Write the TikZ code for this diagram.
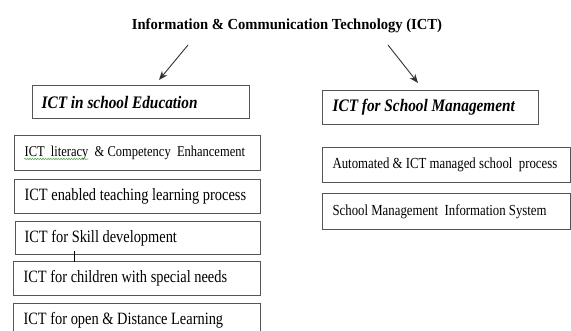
\documentclass[tikz,border=0pt]{standalone}
\usepackage{graphicx}
\usepackage{fontspec}
\setmainfont{Liberation Serif}
\usetikzlibrary{arrows.meta,decorations.pathmorphing}
\definecolor{boxgray}{RGB}{85,85,85}
\definecolor{arrgray}{RGB}{50,50,50}
\definecolor{spellgreen}{RGB}{90,170,90}
% left-aligned, vertically stretched text of fixed width
\newcommand{\mylt}[3]{\makebox[#1][l]{\scalebox{1}[#2]{#3}}}
\begin{document}
\begin{tikzpicture}[x=1pt,y=-1pt,
  box/.style={draw=boxgray, line width=1.2pt, rectangle, anchor=north west,
    inner ysep=0pt, text=black},
  head/.style={box, font=\bfseries\itshape\fontsize{15.3}{18}\selectfont},
  bodyL/.style={box, font=\fontsize{14.4}{17}\selectfont},
  bodyS/.style={box, font=\fontsize{12.5}{15}\selectfont},
  bodyR/.style={box, font=\fontsize{12.8}{15}\selectfont},
  arr/.style={draw=arrgray, line width=0.9pt, -{Stealth[length=9pt,width=7pt]}},
  tick/.style={draw=black, line width=1pt},
  spell/.style={draw=spellgreen, line width=0.6pt, decorate,
    decoration={snake, amplitude=0.7pt, segment length=2.6pt}}
]
\useasboundingbox (0,0) rectangle (571,331);
\clip (0,0) rectangle (571,331);
\fill[white] (0,0) rectangle (571,331);

% title
\node[font=\bfseries\fontsize{14.6}{17}\selectfont, inner sep=0pt] (title) at (287,26)
  {\scalebox{1}[1.05]{Information \& Communication Technology (ICT)}};

% headers
\node[head, inner xsep=9pt, minimum width=217pt, minimum height=33pt] (edu) at (32,85)
  {\mylt{199pt}{1.15}{ICT in school Education}};
\node[head, inner xsep=10pt, minimum width=216pt, minimum height=34pt] (mgmt) at (322,90)
  {\mylt{196pt}{1.15}{ICT for School Management}};

% left column
\node[bodyS, inner xsep=10pt, minimum width=246pt, minimum height=35pt] (lit) at (14,135)
  {\mylt{226pt}{1.2}{ICT\ \ literacy\ \ \& Competency\ \ Enhancement}};
\node[bodyL, inner xsep=10pt, minimum width=246pt, minimum height=34pt] (enab) at (14,179)
  {\mylt{226pt}{1.2}{ICT enabled teaching learning process}};
\node[bodyL, inner xsep=9pt, minimum width=245pt, minimum height=33pt] (skill) at (15,221)
  {\mylt{227pt}{1.2}{ICT for Skill development}};
\node[bodyL, inner xsep=10pt, minimum width=247pt, minimum height=34pt] (child) at (13,261)
  {\mylt{227pt}{1.2}{ICT for children with special needs}};
\node[bodyL, inner xsep=10pt, minimum width=247pt, minimum height=34pt] (open) at (13,303)
  {\mylt{227pt}{1.2}{ICT for open \& Distance Learning}};

% right column
\node[bodyR, inner xsep=10pt, minimum width=248pt, minimum height=35pt] (auto) at (322,147)
  {\mylt{228pt}{1.2}{Automated \& ICT managed school\ \ process}};
\node[bodyR, inner xsep=10pt, minimum width=248pt, minimum height=36pt] (smis) at (322,193)
  {\mylt{228pt}{1.2}{School Management\ \ Information System}};

% arrows
\coordinate (a1s) at (188,45);
\coordinate (a1e) at (159,80);
\coordinate (a2s) at (388,45);
\coordinate (a2e) at (418,83);
\draw[arr] (a1s) -- (a1e);
\draw[arr] (a2s) -- (a2e);

% small mark between boxes
\coordinate (t1) at (74,251);
\coordinate (t2) at (74,262);
\draw[tick] (t1) -- (t2);

% spell-check underline
\coordinate (s1) at (24,159);
\coordinate (s2) at (88,159);
\draw[spell] (s1) -- (s2);
\end{tikzpicture}
\end{document}
